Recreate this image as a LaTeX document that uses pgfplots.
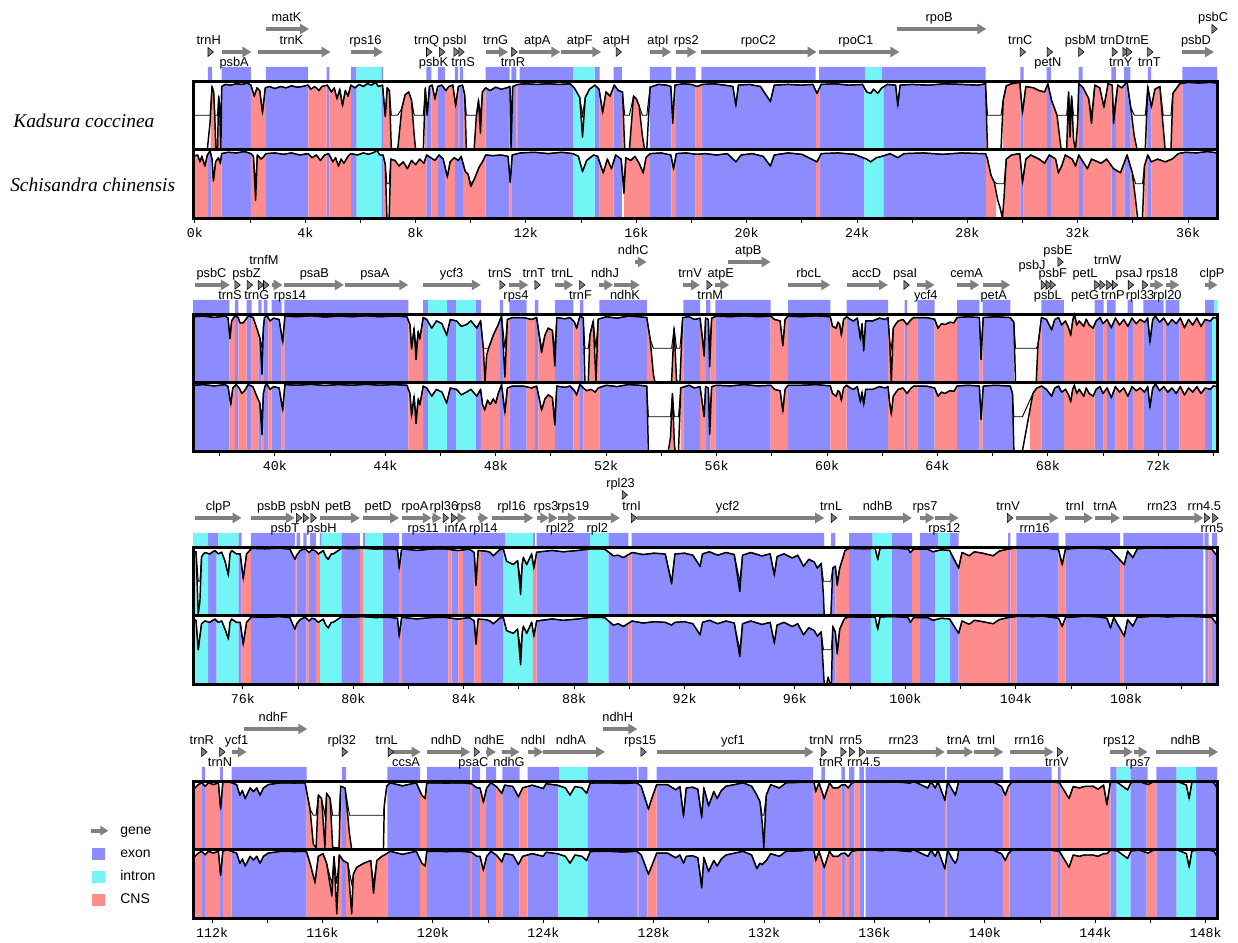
\documentclass[border=0pt]{standalone}
\usepackage{pgfplots}
\pgfplotsset{compat=1.18}
\usepackage{pgfplotstable}
\usetikzlibrary{arrows.meta}
\usepackage{fontspec}
\setmainfont{Liberation Sans}
\newfontfamily\serifit{Liberation Serif}
\newfontfamily\monof{Liberation Mono}
\definecolor{exon}{RGB}{140,140,255}
\definecolor{intron}{RGB}{115,245,245}
\definecolor{cns}{RGB}{255,140,140}
\definecolor{genegray}{RGB}{128,128,128}
\newcommand\genefont{\fontsize{9.6}{11}\selectfont}
\newcommand\tickfont{\monof\fontsize{10}{12}\selectfont}

% ================= ROW 1 =================
\pgfplotstableread[row sep=\\]{x id\\
-0.07 50\\0.45 50\\0.55 70\\0.62 96\\0.68 92\\0.72 74\\0.76 50\\0.82 52\\0.86 89\\0.9 80\\0.94 50\\0.97 96\\1.1 97.5\\1.3 97\\1.5 98\\1.7 97.5\\1.9 98.5\\2.03 97\\2.15 89\\2.25 95\\2.35 93\\2.45 77\\2.55 95\\2.7 96\\2.9 94.5\\3.1 96\\3.3 95\\3.5 96.5\\3.7 95.5\\3.9 96\\4.1 97\\4.2 94\\4.35 96\\4.5 93\\4.6 96\\4.8 97\\4.95 92\\5.05 95\\5.15 87\\5.25 94\\5.35 82\\5.45 93\\5.55 89\\5.65 97\\5.8 95\\5.95 97.5\\6.1 96\\6.25 98\\6.4 97\\6.55 99\\6.65 96\\6.8 97\\6.9 74\\6.97 95\\7.05 93\\7.12 50\\7.35 50\\7.5 80\\7.62 90\\7.75 92\\7.85 86\\7.95 60\\8.0 50\\8.28 50\\8.35 95\\8.42 75\\8.5 96\\8.6 97\\8.7 87\\8.8 96\\8.95 97\\9.1 93\\9.2 96\\9.35 97\\9.45 82\\9.55 96\\9.7 97\\9.78 90\\9.84 50\\10.12 50\\10.2 74\\10.28 86\\10.35 62\\10.42 92\\10.54 95\\10.7 93\\10.9 95.5\\11.1 94\\11.3 95\\11.42 96\\11.46 50\\11.52 96\\11.7 97.5\\12.0 98\\12.4 97.5\\12.8 98\\13.2 97.5\\13.6 98\\13.75 95\\13.95 88\\14.05 59\\14.15 88\\14.3 94\\14.5 97\\14.65 94\\14.78 77\\14.9 92\\15.05 89\\15.2 97\\15.35 93\\15.5 92\\15.58 50\\15.75 50\\15.9 89\\16.0 87\\16.1 82\\16.22 60\\16.3 50\\16.38 50\\16.5 95.5\\16.8 97.5\\17.1 97\\17.25 96\\17.32 69\\17.4 97\\17.7 98\\18.0 97.5\\18.2 96\\18.4 97.5\\18.8 98\\19.2 97\\19.5 96\\19.61 82\\19.7 97\\20.1 97.5\\20.5 96\\20.86 85\\21.0 97\\21.5 97.5\\22.0 97\\22.4 97.5\\22.55 91\\22.7 97.5\\23.2 98\\23.7 97\\24.2 97.5\\24.35 92\\24.5 91\\24.6 94\\24.75 91\\24.9 95\\25.1 97.5\\25.4 97\\25.48 82\\25.56 97\\26.0 97.5\\26.6 97\\27.2 98\\27.8 97.5\\28.4 97\\28.66 98\\28.73 50\\29.22 50\\29.3 86\\29.41 96.5\\29.6 98\\29.9 99\\30.0 77\\30.12 96\\30.4 95\\30.6 93\\30.8 92\\30.92 98\\31.05 86\\31.25 75\\31.4 50\\31.6 50\\31.67 92\\31.72 59\\31.78 89\\31.85 57\\31.92 50\\32.0 70\\32.04 98\\32.2 95\\32.4 87\\32.5 69\\32.62 97\\32.8 95\\32.95 81\\33.1 98\\33.25 97\\33.3 69\\33.45 97\\33.6 95\\33.79 99.5\\33.92 81\\34.05 60\\34.15 50\\34.45 50\\34.54 96\\34.67 81\\34.8 94\\34.98 96\\35.1 66\\35.17 50\\35.38 50\\35.45 91\\35.7 98\\36.0 99\\36.4 98.5\\36.8 99\\37.05 98.5\\
}\cAt
\pgfplotstableread[row sep=\\]{x id\\
-0.07 95\\0.1 96\\0.18 91\\0.25 95\\0.36 88\\0.45 96\\0.55 99\\0.62 93\\0.67 77\\0.75 91\\0.85 94\\0.92 90\\0.97 97\\1.2 98\\1.5 97.5\\1.8 98.5\\2.03 97\\2.12 95\\2.2 63\\2.26 96\\2.4 93\\2.5 95\\2.57 97\\2.9 97.5\\3.2 96.5\\3.5 97.5\\3.8 96\\4.1 97\\4.25 94\\4.4 96\\4.55 92\\4.7 96\\4.85 97\\5.0 91\\5.1 94\\5.2 88\\5.3 93\\5.4 90\\5.55 95\\5.65 97\\5.9 96\\6.1 97.5\\6.3 96.5\\6.5 98\\6.6 99.5\\6.7 96\\6.82 96\\6.9 89\\6.96 50\\7.04 50\\7.1 93\\7.25 92\\7.4 88\\7.55 91\\7.7 86\\7.85 92\\8.0 89\\8.15 93\\8.3 90\\8.4 96\\8.55 94\\8.7 92\\8.85 96\\9.0 93\\9.15 80\\9.25 91\\9.4 94\\9.55 92\\9.65 95\\9.8 84\\9.9 82\\10.0 73\\10.12 78\\10.2 82\\10.3 87\\10.45 92\\10.54 96\\10.8 95.5\\11.1 96\\11.35 95\\11.43 76\\11.5 96\\11.8 97.5\\12.3 98\\12.8 97\\13.3 98\\13.7 97\\13.9 95\\14.05 84\\14.2 92\\14.45 96\\14.6 95\\14.8 83\\14.95 93\\15.1 86\\15.25 96\\15.45 93\\15.55 68\\15.62 94\\15.8 92\\15.95 95\\16.1 90\\16.25 83\\16.35 94\\16.5 97\\16.9 97.5\\17.25 96\\17.35 86\\17.45 97\\17.8 97.5\\18.2 96.5\\18.5 97\\18.9 96\\19.3 97\\19.61 91\\19.8 96\\20.2 97\\20.6 95\\20.86 88\\21.0 96\\21.5 97.5\\22.0 96.5\\22.55 91\\22.7 97\\23.3 97.5\\23.9 96.5\\24.35 93\\24.5 91\\24.7 94\\24.9 95\\25.2 97\\25.48 94\\25.7 97\\26.4 97.5\\27.1 96.5\\27.8 97.5\\28.5 97\\28.66 97\\28.73 93\\28.86 81\\28.98 76\\29.1 63\\29.18 58\\29.27 50\\29.33 65\\29.41 93\\29.6 96\\29.9 97\\30.0 76\\30.12 93\\30.3 96\\30.6 93\\30.8 90\\30.97 96\\31.2 93\\31.3 83\\31.42 88\\31.55 96\\31.8 93\\31.92 88\\32.04 96\\32.35 86\\32.5 93\\32.85 90\\33.05 93\\33.3 86\\33.55 83\\33.79 96\\33.98 83\\34.1 63\\34.17 50\\34.35 50\\34.42 88\\34.54 96\\34.67 91\\34.9 93\\35.17 91\\35.42 93\\35.65 97\\35.9 98\\36.3 97.5\\36.7 98.5\\37.05 97.5\\
}\cAb
\pgfplotstableread[row sep=\\]{x c\\
-0.07 0\\0.57 3\\0.91 0\\0.97 1\\2.03 3\\2.57 1\\4.11 3\\4.77 1\\4.87 3\\5.65 1\\5.86 2\\6.76 1\\6.82 3\\7.19 0\\7.37 3\\8.03 0\\8.33 3\\8.39 1\\8.57 3\\8.82 1\\9.06 3\\9.42 1\\9.54 3\\9.6 1\\9.72 3\\9.84 0\\10.14 3\\10.54 1\\11.41 3\\11.47 1\\11.65 3\\11.71 1\\13.71 2\\14.49 1\\14.67 3\\15.18 1\\15.48 3\\15.58 0\\15.76 3\\16.34 0\\16.49 1\\17.27 3\\17.43 1\\18.15 3\\18.36 1\\22.51 3\\22.64 1\\24.27 2\\24.96 1\\28.67 3\\28.73 0\\29.29 3\\29.92 1\\30.04 3\\30.89 1\\31.04 3\\31.42 0\\31.62 3\\32.04 1\\32.19 3\\33.23 1\\33.39 3\\33.69 1\\33.92 3\\34.1 0\\34.5 3\\34.54 1\\34.67 3\\35.17 0\\35.4 3\\35.79 1\\37.05 0\\
}\rAt
\pgfplotstableread[row sep=\\]{x c\\
-0.07 3\\0.48 1\\0.6 3\\0.97 1\\2.03 3\\2.57 1\\4.11 3\\4.77 1\\4.87 3\\5.65 1\\5.86 2\\6.76 1\\6.82 3\\8.39 1\\8.57 3\\8.82 1\\9.06 3\\9.42 1\\9.72 3\\10.54 1\\11.41 3\\11.47 1\\13.71 2\\14.49 1\\14.67 3\\15.18 1\\15.48 0\\15.56 3\\16.49 1\\17.27 3\\17.43 1\\18.15 3\\18.36 1\\22.51 3\\22.64 1\\24.27 2\\24.96 1\\28.67 3\\29.04 0\\29.29 3\\29.92 1\\30.04 3\\30.89 1\\31.04 3\\32.04 1\\32.19 3\\33.23 1\\33.39 3\\33.69 1\\33.92 3\\34.1 0\\34.42 3\\34.54 1\\34.67 3\\35.79 1\\37.05 0\\
}\rAb
\pgfplotstableread[row sep=\\]{x c\\
-0.07 0\\0.47 1\\0.62 0\\0.97 1\\2.03 0\\2.57 1\\4.1 0\\4.77 1\\4.87 0\\5.65 1\\5.85 2\\6.76 1\\6.82 0\\8.39 1\\8.57 0\\8.81 1\\9.06 0\\9.42 1\\9.54 0\\9.6 1\\9.72 0\\10.54 1\\11.41 0\\11.47 1\\11.65 0\\11.77 1\\13.71 2\\14.49 1\\14.67 0\\15.18 1\\15.48 0\\16.49 1\\17.27 0\\17.43 1\\18.15 0\\18.36 1\\22.5 0\\22.63 1\\24.3 2\\24.9 1\\28.66 0\\29.92 1\\30.04 0\\30.87 1\\31.03 0\\32.03 1\\32.18 0\\33.22 1\\33.38 0\\33.68 1\\33.91 0\\34.54 1\\34.66 0\\35.79 1\\37.05 0\\
}\aA
\pgfplotstableread[row sep=\\]{x len lev\\
0.97 1.08 1\\2.57 1.57 2\\2.27 2.65 1\\5.65 1.17 1\\10.54 0.81 1\\11.75 1.5 1\\13.28 1.45 1\\16.49 0.78 1\\17.43 0.75 1\\18.36 4.18 1\\22.64 2.9 1\\25.44 3.25 2\\35.79 1.15 1\\
}\gA
\pgfplotstableread[row sep=\\]{x lev\\
0.54 1\\8.46 1\\8.93 1\\9.45 1\\9.63 1\\11.55 1\\15.33 1\\29.98 1\\30.96 1\\32.1 1\\33.31 1\\33.7 1\\33.84 1\\34.6 1\\36.93 2\\
}\tA
\pgfplotstableread[row sep=\\]{x lv lab\\
0.5 1 trnH\\1.42 2 psbA\\3.32 3 matK\\3.5 1 trnK\\6.18 1 rps16\\8.4 1 trnQ\\8.65 2 psbK\\9.42 1 psbI\\9.72 2 trnS\\10.9 1 trnG\\11.53 2 trnR\\12.41 1 atpA\\13.95 1 atpF\\15.28 1 atpH\\16.79 1 atpI\\17.81 1 rps2\\20.42 1 rpoC2\\23.96 1 rpoC1\\26.98 3 rpoB\\29.92 1 trnC\\30.92 2 petN\\32.1 1 psbM\\33.26 1 trnD\\33.56 2 trnY\\34.16 1 trnE\\34.6 2 trnT\\36.29 1 psbD\\36.91 3 psbC\\
}\lA

% ================= ROW 2 =================
\pgfplotstableread[row sep=\\]{x id\\
37.03 98\\37.4 98.5\\37.8 97.5\\38.2 98.5\\38.3 97\\38.37 82\\38.43 95\\38.55 98.7\\38.67 97.4\\38.73 93.6\\38.85 93.6\\38.95 96.2\\39.03 98.7\\39.21 97.4\\39.34 89.7\\39.46 82\\39.53 56\\39.58 90\\39.62 97.4\\39.72 98.7\\39.82 94.9\\39.95 97\\40.15 96\\40.28 79.5\\40.36 98.5\\40.8 98\\41.3 98.7\\41.8 97.8\\42.3 98.5\\42.8 98\\43.3 98.7\\43.8 98\\44.3 98.5\\44.78 98\\44.89 92.3\\44.95 74.4\\45.04 89.7\\45.11 66.7\\45.19 87.2\\45.25 82\\45.37 97.4\\45.5 96\\45.68 89.7\\45.85 95\\46.05 93\\46.22 84.6\\46.35 96\\46.58 94.9\\46.75 91\\46.94 92.3\\47.1 95\\47.31 89.7\\47.45 95\\47.55 74.4\\47.61 51\\47.67 70\\47.73 74.4\\47.91 84.6\\48.09 92.3\\48.21 98.7\\48.33 54\\48.42 96\\48.6 97.4\\49.0 97.4\\49.3 96\\49.48 97.4\\49.66 71.8\\49.78 84.6\\49.9 89.7\\50.05 88\\50.14 62\\50.21 97.4\\50.5 96.5\\50.69 97.4\\50.85 94\\50.93 89.7\\51.05 98.7\\51.17 97\\51.23 50\\51.35 50\\51.41 84.6\\51.53 94.9\\51.63 51.3\\51.71 96.2\\52.0 98\\52.4 97\\52.8 98.5\\53.2 98\\53.47 97.4\\53.59 82\\53.71 56\\53.77 50\\54.31 50\\54.37 51.3\\54.46 89.7\\54.55 51.3\\54.67 50\\54.77 97.4\\55.0 98\\55.2 96\\55.4 97\\55.55 69.2\\55.6 97\\55.7 96\\55.75 61.5\\55.82 97\\56.0 98.5\\56.5 98\\57.0 98.7\\57.5 98\\57.96 98.5\\58.1 96\\58.3 95\\58.4 76.9\\58.48 96\\58.59 98.5\\59.1 98\\59.6 98.7\\60.12 98\\60.2 91\\60.33 89.7\\60.4 94\\60.46 92.3\\60.52 84.6\\60.6 96\\60.71 98\\60.85 96\\60.96 94.9\\61.1 97\\61.21 82\\61.27 93\\61.33 73\\61.4 95\\61.65 94.9\\61.9 97\\62.1 96\\62.21 97.4\\62.27 80\\62.33 50\\62.4 89.7\\62.5 93\\62.58 94.9\\62.75 96\\62.9 92.3\\63.05 96\\63.15 97.4\\63.6 97.4\\63.9 96.2\\64.02 89.7\\64.15 93\\64.27 92.3\\64.45 94\\64.6 93.6\\64.71 97.4\\65.1 98\\65.52 97.4\\65.58 66.7\\65.66 97.4\\66.1 98\\66.64 97.4\\66.77 94\\66.83 50\\67.58 50\\67.64 76.9\\67.77 97.4\\67.95 96\\68.14 88.5\\68.25 96\\68.39 97.4\\68.5 92\\68.64 94.9\\68.75 90\\68.83 84.6\\68.9 95\\68.96 100\\69.05 92\\69.14 94.9\\69.3 91\\69.39 96.2\\69.5 92\\69.64 89.7\\69.75 95\\69.89 97.4\\70.0 93\\70.15 96\\70.3 90\\70.45 97\\70.6 92\\70.75 96\\70.9 91\\71.05 97\\71.2 93\\71.35 96\\71.5 94\\71.62 97\\71.7 79.5\\71.8 96\\71.9 98.5\\72.05 94\\72.2 97\\72.35 92\\72.5 96\\72.65 93\\72.8 97\\72.95 90\\73.1 96\\73.25 92\\73.4 97\\73.55 91\\73.7 96\\73.89 94.9\\74.0 97.5\\74.13 97\\
}\cBt
\pgfplotstableread[row sep=\\]{x id\\
37.03 98\\37.4 98.5\\37.8 97.5\\38.2 98.5\\38.3 97\\38.4 84\\38.47 96\\38.6 98.5\\38.7 96\\38.8 92\\38.9 94\\39.03 98.5\\39.2 97\\39.34 90\\39.45 85\\39.53 62\\39.58 92\\39.65 98\\39.72 98.5\\39.82 95\\39.95 97\\40.15 96\\40.28 80\\40.36 98.5\\40.8 98\\41.3 98.7\\41.8 97.8\\42.3 98.5\\42.8 98\\43.3 98.7\\43.8 98\\44.3 98.5\\44.78 98\\44.89 92\\44.95 76\\45.04 90\\45.11 70\\45.19 88\\45.25 84\\45.37 97.4\\45.5 96\\45.68 90\\45.85 95\\46.05 93\\46.22 85\\46.35 96\\46.58 95\\46.75 91\\46.94 93\\47.1 95\\47.31 90\\47.45 95\\47.52 84\\47.6 80\\47.7 87\\47.8 84\\47.91 88\\48.0 85\\48.09 92\\48.21 98.5\\48.33 78\\48.42 96\\48.6 97.4\\49.0 97.4\\49.3 96\\49.48 97.4\\49.66 80\\49.78 88\\49.9 91\\50.05 89\\50.14 69\\50.21 97.4\\50.5 96.5\\50.69 97.4\\50.85 94\\50.93 91\\51.05 98.7\\51.17 96\\51.3 94\\51.45 95\\51.6 93\\51.71 96\\52.0 98\\52.4 97\\52.8 98.5\\53.2 98\\53.47 97.4\\53.53 50\\54.25 50\\54.33 60\\54.4 92\\54.47 55\\54.5 50\\54.62 50\\54.7 96\\55.0 98\\55.2 96\\55.4 97\\55.55 75\\55.6 97\\55.7 96\\55.75 62\\55.82 97\\56.0 98\\56.5 97.5\\57.0 98.5\\57.5 97.5\\57.96 98\\58.1 95\\58.3 94\\58.4 79\\58.48 95\\58.59 98\\59.1 98\\59.6 98.5\\60.12 97.5\\60.2 92\\60.33 90\\60.4 94\\60.46 93\\60.52 87\\60.6 96\\60.71 98\\60.85 96\\60.96 95\\61.1 97\\61.21 86\\61.27 93\\61.33 84\\61.4 95\\61.65 95\\61.9 97\\62.1 96\\62.21 97\\62.27 85\\62.33 77\\62.4 90\\62.5 93\\62.58 95\\62.75 96\\62.9 92\\63.05 96\\63.15 97.4\\63.6 97.4\\63.9 96\\64.02 90\\64.15 93\\64.27 92\\64.45 94\\64.6 93.6\\64.71 97.4\\65.1 98\\65.52 97.4\\65.58 73\\65.66 97.4\\66.1 98\\66.64 97.4\\66.72 92\\66.77 50\\67.08 50\\67.46 92\\67.6 96\\67.77 97.4\\67.95 95\\68.14 90\\68.25 96\\68.39 97.4\\68.5 93\\68.64 95\\68.75 91\\68.83 86\\68.9 95\\68.96 98\\69.05 92\\69.14 95\\69.3 90\\69.39 96\\69.5 92\\69.64 90\\69.75 95\\69.89 97\\70.0 92\\70.15 96\\70.3 89\\70.45 97\\70.6 93\\70.75 96\\70.9 90\\71.05 97\\71.2 94\\71.35 96\\71.5 93\\71.62 97\\71.7 82\\71.8 96\\71.9 99\\72.05 94\\72.2 97\\72.35 93\\72.5 96\\72.65 92\\72.8 97\\72.95 91\\73.1 96\\73.25 93\\73.4 97\\73.55 92\\73.7 96\\73.89 95\\74.0 97.5\\74.13 97\\
}\cBb
\pgfplotstableread[row sep=\\]{x c\\
37.03 1\\38.35 3\\38.55 1\\38.67 3\\38.97 1\\39.15 3\\39.4 1\\39.52 3\\39.6 1\\39.76 3\\39.88 1\\40.24 3\\40.34 1\\44.83 3\\45.37 1\\45.55 2\\46.24 1\\46.56 2\\47.28 1\\47.46 3\\48.15 1\\48.27 3\\48.49 1\\49.12 3\\49.42 1\\49.54 3\\50.14 1\\50.81 3\\51.05 1\\51.17 3\\51.75 1\\53.47 3\\53.77 0\\54.3 3\\54.8 1\\55.4 3\\55.62 1\\55.77 3\\55.96 1\\57.96 3\\58.59 1\\60.12 3\\60.71 1\\62.21 3\\62.81 1\\62.9 3\\63.27 1\\63.9 3\\64.71 1\\65.52 3\\65.64 1\\66.77 0\\67.58 3\\67.77 1\\68.58 3\\69.7 1\\70.02 3\\70.14 1\\70.46 3\\70.89 1\\71.08 3\\71.46 1\\72.2 3\\72.27 1\\72.77 3\\73.7 1\\73.95 2\\74.13 0\\
}\rBt
\pgfplotstableread[row sep=\\]{x c\\
37.03 1\\38.35 3\\38.55 1\\38.67 3\\38.97 1\\39.15 3\\39.4 1\\39.52 3\\39.6 1\\39.76 3\\39.88 1\\40.24 3\\40.34 1\\44.83 3\\45.37 1\\45.55 2\\46.24 1\\46.56 2\\47.28 1\\47.46 3\\48.15 1\\48.27 3\\48.49 1\\49.12 3\\49.42 1\\49.54 3\\50.14 1\\50.81 3\\51.05 1\\51.17 3\\51.75 1\\53.47 3\\53.6 0\\54.3 3\\54.55 0\\54.7 3\\54.8 1\\55.4 3\\55.62 1\\55.77 3\\55.96 1\\57.96 3\\58.59 1\\60.12 3\\60.71 1\\62.21 3\\62.81 1\\62.9 3\\63.27 1\\63.9 3\\64.71 1\\65.52 3\\65.64 1\\66.77 0\\67.35 3\\67.77 1\\68.58 3\\69.7 1\\70.02 3\\70.14 1\\70.46 3\\70.89 1\\71.08 3\\71.46 1\\72.2 3\\72.27 1\\72.77 3\\73.7 1\\73.95 2\\74.13 0\\
}\rBb
\pgfplotstableread[row sep=\\]{x c\\
37.03 1\\38.35 0\\38.55 1\\38.67 0\\38.97 1\\39.15 0\\39.4 1\\39.52 0\\39.6 1\\39.72 0\\39.88 1\\40.24 0\\40.34 1\\44.83 0\\45.37 1\\45.55 2\\46.24 1\\46.56 2\\47.28 1\\47.46 0\\48.15 1\\48.27 0\\48.49 1\\49.12 0\\49.42 1\\49.54 0\\50.14 1\\50.81 0\\51.05 1\\51.17 0\\51.75 1\\53.47 0\\54.8 1\\55.4 0\\55.62 1\\55.77 0\\55.96 1\\57.96 0\\58.59 1\\60.12 0\\60.71 1\\62.21 0\\62.81 1\\62.9 0\\63.27 1\\63.9 0\\64.71 1\\65.52 0\\65.64 1\\66.64 0\\67.77 1\\68.58 0\\69.7 1\\70.02 0\\70.14 1\\70.46 0\\70.89 1\\71.08 0\\71.46 1\\72.2 0\\72.27 1\\72.77 0\\73.7 1\\74.02 2\\74.13 0\\
}\aB
\pgfplotstableread[row sep=\\]{x len lev\\
37.1 1.27 1\\39.88 0.4 1\\40.34 2.16 1\\42.54 2.29 1\\45.37 2.09 1\\48.49 0.69 1\\50.14 0.67 1\\51.75 0.51 1\\52.28 0.94 1\\53.04 0.43 2\\54.8 0.6 1\\55.96 0.5 1\\56.4 1.56 2\\58.59 1.53 1\\60.71 1.5 1\\63.27 0.63 1\\64.71 0.81 1\\65.64 1.0 1\\71.7 0.5 1\\72.27 0.5 1\\73.7 0.45 1\\
}\gB
\pgfplotstableread[row sep=\\]{x lev\\
38.61 1\\39.06 1\\39.46 1\\39.65 1\\48.21 1\\49.48 1\\51.1 1\\55.71 1\\62.85 1\\67.82 1\\68.0 1\\68.15 1\\68.43 2\\69.76 1\\69.95 1\\70.2 1\\70.4 1\\70.98 1\\71.5 1\\
}\tB
\pgfplotstableread[row sep=\\]{x lv lab\\
37.7 1 psbC\\38.37 2 trnS\\38.97 1 psbZ\\39.34 2 trnG\\39.6 4 trnfM\\40.54 2 rps14\\41.43 1 psaB\\43.62 1 psaA\\46.4 1 ycf3\\48.15 1 trnS\\48.73 2 rps4\\49.38 1 trnT\\50.41 1 trnL\\51.07 2 trnF\\51.96 1 ndhJ\\52.68 2 ndhK\\52.98 3 ndhC\\55.04 1 trnV\\55.77 2 trnM\\56.15 1 atpE\\57.15 3 atpB\\59.34 1 rbcL\\61.43 1 accD\\62.83 1 psaI\\63.58 2 ycf4\\65.06 1 cemA\\66.04 2 petA\\67.43 5 psbJ\\68.18 1 psbF\\68.0 2 psbL\\68.37 3 psbE\\69.35 1 petL\\69.35 2 petG\\70.17 4 trnW\\70.36 2 trnP\\70.94 1 psaJ\\71.34 2 rpl33\\72.14 1 rps18\\72.33 2 rpl20\\73.95 1 clpP\\
}\lB

% ================= ROW 3 =================
\pgfplotstableread[row sep=\\]{x id\\
74.19 97\\74.3 96.5\\74.38 51.3\\74.44 60\\74.5 93\\74.62 96\\74.8 94.9\\74.9 96.5\\74.99 97.4\\75.1 95\\75.23 96.2\\75.35 89.7\\75.47 79.5\\75.53 95\\75.59 97.4\\75.77 94.9\\75.9 95\\76.01 76.9\\76.13 94.9\\76.31 99\\76.8 98.7\\77.3 99.2\\77.7 98.5\\77.88 91\\77.95 94\\78.07 97.4\\78.25 98.7\\78.4 96\\78.5 98\\78.61 97.4\\78.73 94.9\\78.91 97.4\\79.0 93\\79.09 91\\79.2 95\\79.27 94.9\\79.57 99\\80.0 98.7\\80.3 99.2\\80.8 98.5\\81.3 98.7\\81.6 98\\81.66 84.6\\81.75 98.7\\82.3 97.5\\82.8 98.5\\83.3 98.7\\83.8 97.4\\84.2 98.5\\84.38 96\\84.44 71.8\\84.52 97.4\\84.8 97\\84.95 96.2\\85.07 93.6\\85.3 98\\85.43 98.7\\85.55 89.7\\85.79 87.2\\85.95 90\\86.06 65.4\\86.12 88\\86.16 92.3\\86.28 87.2\\86.46 94.9\\86.54 84.6\\86.64 96.2\\87.2 97.5\\87.6 96.5\\88.1 97.4\\88.6 98.7\\89.1 98.5\\89.42 93.6\\89.6 94\\89.78 92.3\\90.1 96\\90.5 94.5\\90.9 95.5\\91.3 94.9\\91.53 73.1\\91.65 94.9\\92.0 95.5\\92.3 94\\92.56 85.9\\92.65 95\\92.9 96.5\\93.2 94\\93.5 96\\93.8 94.5\\94.0 67.5\\94.1 94\\94.4 96\\94.8 93.5\\95.1 95\\95.25 79.5\\95.35 93\\95.6 95\\95.9 92\\96.1 94\\96.31 85.9\\96.5 91\\96.7 89\\96.81 84.6\\96.95 88\\97.03 65\\97.06 50\\97.3 50\\97.37 84.6\\97.46 86\\97.53 72\\97.62 84.6\\97.75 93\\97.81 97.4\\97.96 99\\98.5 98.7\\98.9 99\\99.0 91\\99.08 99\\99.6 99.2\\100.1 98.5\\100.18 96\\100.3 98.5\\100.8 98.5\\101.0 96.5\\101.3 98\\101.6 97.5\\101.93 84.6\\102.05 96\\102.31 93.6\\102.5 96.5\\102.8 95.5\\103.18 93.6\\103.4 97\\103.72 98.5\\104.1 99.5\\104.6 99.2\\105.0 99.5\\105.55 98\\105.68 87.2\\105.8 98.5\\106.5 99.5\\107.0 99\\107.4 98.5\\107.93 87.2\\108.05 97\\108.24 92.3\\108.4 98.7\\109.0 99.5\\109.5 99\\110.0 99.5\\110.6 99.2\\111.1 98.5\\111.29 93.6\\
}\cCt
\pgfplotstableread[row sep=\\]{x id\\
74.19 97\\74.3 96.5\\74.38 75\\74.44 85\\74.5 94\\74.62 96\\74.8 95\\74.9 96.5\\74.99 97.4\\75.1 95\\75.23 96\\75.35 90\\75.47 83\\75.53 95\\75.59 97.4\\75.77 95\\75.9 95\\76.01 79\\76.13 95\\76.31 99\\76.8 98.7\\77.3 99.2\\77.7 98.5\\77.88 90\\77.95 94\\78.07 97\\78.25 98.7\\78.4 96\\78.5 98\\78.61 97.4\\78.73 95\\78.91 97.4\\79.0 93\\79.09 91\\79.2 95\\79.27 95\\79.57 99\\80.0 98.7\\80.3 99.2\\80.8 98.5\\81.3 98.7\\81.6 98\\81.66 85\\81.75 98.7\\82.3 97.5\\82.8 98.5\\83.3 98.7\\83.8 97.4\\84.2 98.5\\84.38 96\\84.44 79\\84.52 97.4\\84.8 97\\84.95 96\\85.07 94\\85.3 98\\85.43 98.7\\85.55 89\\85.79 87\\85.95 90\\86.06 64\\86.12 88\\86.16 92\\86.28 87\\86.46 95\\86.54 85\\86.64 96\\87.2 97.5\\87.6 96.5\\88.1 97.4\\88.6 98.7\\89.1 98.5\\89.42 93\\89.6 94\\89.78 92\\90.1 96\\90.5 94.5\\90.9 95.5\\91.3 95\\91.53 93\\91.65 95\\92.0 95.5\\92.3 94\\92.56 86\\92.65 95\\92.9 96.5\\93.2 94\\93.5 96\\93.8 94.5\\94.0 70\\94.1 94\\94.4 96\\94.8 93.5\\95.1 95\\95.25 80\\95.35 93\\95.6 95\\95.9 92\\96.1 94\\96.31 86\\96.5 91\\96.7 89\\96.81 85\\96.95 88\\97.03 60\\97.06 50\\97.15 50\\97.2 55\\97.27 50\\97.32 50\\97.37 92\\97.46 88\\97.53 72\\97.62 90\\97.75 96\\97.81 98\\97.96 99\\98.5 98.7\\98.9 99\\99.0 90\\99.08 99\\99.6 99.2\\100.1 98.5\\100.18 95\\100.3 98.5\\100.8 98.5\\101.0 96.5\\101.3 98\\101.6 97.5\\101.93 87\\102.05 96\\102.31 93.6\\102.5 96.5\\102.8 95.5\\103.18 94\\103.4 97\\103.72 98.5\\104.1 99.5\\104.6 99.2\\105.0 99.5\\105.55 98\\105.68 92\\105.8 98.5\\106.5 99.5\\107.0 99\\107.3 98\\107.43 91\\107.55 98.5\\107.93 85\\108.05 97\\108.24 92.3\\108.4 98.7\\109.0 99.5\\109.5 99\\110.0 99.5\\110.6 99.2\\111.1 98.5\\111.29 93.6\\
}\cCb
\pgfplotstableread[row sep=\\]{x c\\
74.19 2\\74.74 1\\75.05 2\\75.83 1\\75.95 3\\76.29 1\\77.88 3\\77.94 1\\78.31 3\\78.4 1\\78.64 3\\78.79 2\\79.57 1\\80.24 3\\80.34 2\\81.06 1\\81.66 3\\81.76 1\\83.44 3\\83.56 1\\83.8 3\\83.98 1\\84.38 3\\84.62 1\\85.43 2\\86.5 3\\86.64 1\\88.51 2\\89.24 1\\89.96 3\\90.08 1\\97.06 0\\97.31 1\\97.46 3\\97.96 1\\98.75 2\\99.5 1\\100.24 3\\100.53 1\\101.08 2\\101.62 1\\101.93 3\\103.72 1\\103.8 3\\104.02 1\\105.55 3\\105.8 1\\107.78 3\\107.9 1\\110.8 0\\110.87 1\\110.99 3\\111.11 1\\111.29 0\\
}\rC
\pgfplotstableread[row sep=\\]{x c\\
74.19 2\\74.74 1\\75.11 2\\75.83 1\\75.95 0\\76.29 1\\77.88 0\\77.94 1\\78.07 0\\78.19 1\\78.31 0\\78.43 1\\78.64 0\\78.79 1\\78.85 2\\79.57 1\\80.24 0\\80.34 1\\80.43 2\\81.06 1\\81.66 0\\81.76 1\\85.5 2\\86.5 1\\86.58 0\\86.64 1\\88.58 2\\89.24 1\\89.96 0\\90.08 1\\97.06 0\\97.31 1\\97.46 0\\97.96 1\\98.81 2\\99.5 1\\100.24 0\\100.53 1\\101.18 2\\101.62 1\\101.93 0\\103.72 1\\103.8 0\\104.02 1\\105.55 0\\105.8 1\\107.78 0\\107.9 1\\110.8 0\\110.83 1\\110.99 0\\111.11 1\\111.29 0\\
}\aC
\pgfplotstableread[row sep=\\]{x len lev\\
74.26 1.69 1\\76.29 1.59 1\\78.79 1.45 1\\80.34 1.32 1\\81.76 1.08 1\\82.84 0.36 1\\83.74 0.36 1\\84.53 0.36 1\\85.01 1.51 1\\86.64 0.46 1\\87.1 0.3 1\\87.4 0.7 1\\88.15 1.51 1\\90.26 6.8 1\\97.96 2.28 1\\100.53 0.53 1\\101.09 0.84 1\\104.02 1.53 1\\105.8 1.0 1\\106.87 0.91 1\\107.9 2.9 1\\
}\gC
\pgfplotstableread[row sep=\\]{x lev\\
78.0 1\\78.25 1\\78.53 1\\83.32 1\\83.62 1\\89.8 2\\90.14 1\\97.38 1\\103.76 1\\110.9 1\\111.2 1\\
}\tC
\pgfplotstableread[row sep=\\]{x lv lab\\
75.11 1 clpP\\77.04 1 psbB\\77.52 2 psbT\\78.25 1 psbN\\78.85 2 psbH\\79.45 1 petB\\80.9 1 petD\\82.23 1 rpoA\\82.53 2 rps11\\83.28 1 rpl36\\83.71 2 infA\\84.18 1 rps8\\84.71 2 rpl14\\85.73 1 rpl16\\86.98 1 rps3\\87.49 2 rpl22\\87.97 1 rps19\\88.84 2 rpl2\\89.68 3 rpl23\\90.08 1 trnI\\93.56 1 ycf2\\97.31 1 trnL\\99.0 1 ndhB\\100.71 1 rps7\\101.41 2 rps12\\103.72 1 trnV\\104.68 2 rrn16\\106.15 1 trnI\\107.24 1 trnA\\109.3 1 rrn23\\110.83 1 rrn4.5\\111.11 2 rrn5\\
}\lC

% ================= ROW 4 =================
\pgfplotstableread[row sep=\\]{x id\\
111.31 95\\111.38 94.9\\111.5 97.4\\111.63 98.7\\111.75 96.2\\111.87 98.7\\112.05 97.4\\112.23 98.7\\112.31 79.5\\112.39 98.7\\112.53 100\\112.71 98.7\\112.89 97.4\\113.01 89.7\\113.1 93\\113.2 87.2\\113.38 94.9\\113.5 92.3\\113.62 94.9\\113.74 89.7\\113.86 94.9\\114.04 97.4\\114.5 98.7\\115.0 98.5\\115.37 98.7\\115.55 79.5\\115.67 53.8\\115.77 51.3\\115.85 89.7\\115.97 87.2\\116.09 51.3\\116.15 91\\116.28 87.2\\116.37 51.3\\116.6 51.3\\116.66 96.2\\116.82 94.9\\116.98 61.5\\117.06 50\\118.21 50\\118.24 82\\118.33 96.2\\118.45 98.7\\118.9 96.5\\119.4 98.7\\119.6 89.7\\119.72 87.2\\119.78 98.7\\120.5 98.5\\121.0 98.7\\121.4 98\\121.6 95\\121.71 94.9\\121.83 84.6\\121.95 94.9\\122.1 98.7\\122.3 96\\122.5 91\\122.6 97\\122.9 96\\123.1 88.5\\123.25 95\\123.6 97\\124.0 94.5\\124.1 98\\124.5 97\\124.8 95\\124.97 89.7\\125.15 96\\125.4 95\\125.57 91\\125.7 98.5\\126.3 98.7\\126.9 98.2\\127.39 98.7\\127.55 96\\127.81 79.5\\127.93 87.2\\128.11 97.4\\128.5 97.4\\128.8 93.6\\128.95 96\\129.08 74.4\\129.18 94.9\\129.4 95.5\\129.6 94\\129.74 73.1\\129.82 94.9\\129.99 82\\130.18 92.3\\130.3 87.2\\130.45 93\\130.62 96.2\\130.93 97.4\\131.24 98.7\\131.55 96.2\\131.74 89.7\\131.85 85\\131.93 70\\131.99 51.3\\132.08 89.7\\132.24 97.4\\132.55 94.9\\132.8 98.7\\133.3 99\\133.8 100\\133.87 92.3\\133.99 98.7\\134.18 87.2\\134.37 98.7\\134.5 95\\134.68 94.9\\134.8 97\\134.93 97.4\\135.05 95\\135.18 98.7\\135.4 99.5\\135.7 100\\136.3 99\\136.4 100\\137.3 98.5\\137.4 100\\137.93 94.9\\138.05 99.5\\138.2 94.9\\138.3 99.5\\138.55 86\\138.65 99.5\\138.93 89.7\\139.05 99.5\\139.7 100\\140.3 99.5\\140.6 96\\140.74 89.7\\140.85 96\\141.0 100\\141.6 99.5\\142.2 100\\142.7 98.7\\143.05 87.2\\143.2 96\\143.42 94.9\\143.6 96\\143.92 96.2\\144.1 94\\144.3 97\\144.42 83\\144.55 99.5\\144.8 99\\145.17 93.5\\145.3 99\\145.6 99.5\\145.92 97.4\\146.1 99.5\\146.6 100\\147.0 99.5\\147.3 97\\147.4 87.2\\147.5 99\\148.0 100\\148.3 98.7\\148.41 94.9\\
}\cDt
\pgfplotstableread[row sep=\\]{x id\\
111.31 95\\111.38 95\\111.5 97.4\\111.63 98.7\\111.75 96.2\\111.87 98.7\\112.05 97.4\\112.23 98.7\\112.31 81\\112.39 98.7\\112.53 100\\112.71 98.7\\112.89 97.4\\113.01 90\\113.1 93\\113.2 88\\113.38 95\\113.5 92.3\\113.62 95\\113.74 90\\113.86 95\\114.04 97.4\\114.5 98.7\\115.0 98.5\\115.37 98.7\\115.43 98\\115.55 90\\115.73 76\\115.85 95\\116.02 97\\116.15 90\\116.34 66\\116.42 95\\116.52 53\\116.61 96\\116.75 92\\116.92 90\\117.06 53\\117.12 82\\117.24 87\\117.5 90\\117.75 92\\117.85 68\\117.97 92\\118.15 95\\118.33 97\\118.45 98.7\\118.9 96.5\\119.4 98.7\\119.6 90\\119.72 88\\119.78 98.7\\120.5 98.5\\121.0 98.7\\121.4 98\\121.6 95\\121.71 95\\121.83 85\\121.95 95\\122.1 98.7\\122.3 96\\122.5 91\\122.6 97\\122.9 96\\123.1 89\\123.25 95\\123.6 97\\124.0 95\\124.1 98\\124.5 97\\124.8 95\\124.97 90\\125.15 96\\125.4 95\\125.57 92\\125.7 98.5\\126.3 98.7\\126.9 98.2\\127.39 98.7\\127.55 96\\127.81 82\\127.93 88\\128.11 97.4\\128.5 97.4\\128.8 94\\128.95 96\\129.08 90\\129.18 95\\129.4 95.5\\129.6 94\\129.74 72\\129.82 94\\129.99 84\\130.18 92\\130.3 88\\130.45 93\\130.62 96\\130.93 97.4\\131.24 98.7\\131.55 96\\131.74 86\\131.85 90\\131.93 89\\132.08 92\\132.24 97\\132.55 95\\132.8 98.7\\133.3 99\\133.8 100\\133.87 92\\133.99 98.7\\134.18 87\\134.37 98.7\\134.5 95\\134.68 95\\134.8 97\\134.93 97.4\\135.05 95\\135.18 98.7\\135.4 99.5\\135.7 100\\136.3 99\\136.4 100\\137.3 98.5\\137.4 100\\137.93 95\\138.05 99.5\\138.2 95\\138.3 99.5\\138.55 86\\138.65 99.5\\138.85 92\\138.93 90\\139.0 93\\139.05 99.5\\139.7 100\\140.3 99.5\\140.6 97\\140.74 92\\140.85 97\\141.0 100\\141.6 99.5\\142.2 100\\142.7 98.7\\143.05 87\\143.2 96\\143.42 95\\143.6 96\\143.92 96\\144.1 95\\144.3 97\\144.42 97\\144.55 99.5\\144.8 99\\145.17 93.5\\145.3 99\\145.6 99.5\\145.92 97.4\\146.1 99.5\\146.6 100\\147.0 99.5\\147.3 97\\147.4 87.2\\147.5 99\\148.0 100\\148.3 98.7\\148.41 94.9\\
}\cDb
\pgfplotstableread[row sep=\\]{x c\\
111.31 3\\111.63 1\\111.75 3\\112.29 1\\112.39 3\\112.71 1\\115.43 3\\116.7 1\\116.86 3\\117.06 0\\118.35 1\\119.54 3\\119.78 1\\121.35 3\\121.41 1\\121.71 3\\121.93 1\\122.29 3\\122.52 1\\123.14 3\\123.43 1\\124.55 2\\125.6 1\\127.39 3\\127.45 1\\127.77 3\\128.11 1\\133.78 3\\134.08 1\\134.2 3\\134.8 1\\134.93 3\\135.08 1\\135.27 3\\135.45 1\\135.62 0\\135.68 1\\138.55 3\\138.61 1\\140.65 3\\140.9 1\\142.42 3\\142.64 1\\142.74 3\\144.55 1\\144.77 2\\145.27 1\\145.86 3\\146.21 1\\146.95 2\\147.65 1\\148.41 0\\
}\rDt
\pgfplotstableread[row sep=\\]{x c\\
111.31 3\\111.63 1\\111.75 3\\112.29 1\\112.39 3\\112.71 1\\115.43 3\\116.7 1\\116.86 3\\118.35 1\\119.54 3\\119.78 1\\121.35 3\\121.41 1\\121.71 3\\121.93 1\\122.29 3\\122.52 1\\123.14 3\\123.43 1\\124.55 2\\125.6 1\\127.39 3\\127.45 1\\127.77 3\\128.11 1\\133.78 3\\134.08 1\\134.2 3\\134.8 1\\134.93 3\\135.08 1\\135.27 3\\135.45 1\\135.62 0\\135.68 1\\138.55 3\\138.61 1\\140.65 3\\140.9 1\\142.42 3\\142.64 1\\142.74 3\\144.55 1\\144.77 2\\145.27 1\\145.86 3\\146.21 1\\146.95 2\\147.65 1\\148.41 0\\
}\rDb
\pgfplotstableread[row sep=\\]{x c\\
111.31 0\\111.63 1\\111.75 0\\112.29 1\\112.39 0\\112.71 1\\115.43 0\\116.7 1\\116.86 0\\118.35 1\\119.54 0\\119.78 1\\121.35 0\\121.41 1\\121.71 0\\121.93 1\\122.29 0\\122.52 1\\123.14 0\\123.43 1\\124.58 2\\125.6 1\\127.39 0\\127.45 1\\127.77 0\\128.11 1\\133.78 0\\134.08 1\\134.2 0\\134.8 1\\134.93 0\\135.08 1\\135.27 0\\135.45 1\\135.62 0\\135.68 1\\138.55 0\\138.61 1\\140.65 0\\140.9 1\\142.42 0\\142.64 1\\142.74 0\\144.55 1\\144.77 2\\145.27 1\\145.9 0\\146.21 1\\146.95 2\\147.65 1\\148.41 0\\
}\aD
\pgfplotstableread[row sep=\\]{x len lev\\
112.71 0.55 1\\113.14 2.31 2\\118.51 1.05 1\\119.78 1.57 1\\121.93 0.36 1\\122.52 0.62 1\\123.43 0.57 1\\124.0 2.24 1\\126.15 1.26 2\\128.11 5.69 1\\135.68 2.87 1\\138.61 0.97 1\\139.61 1.06 1\\140.9 1.59 1\\144.55 0.81 1\\145.4 0.5 1\\146.21 2.24 1\\
}\gD
\pgfplotstableread[row sep=\\]{x lev\\
111.69 1\\112.34 1\\116.78 1\\118.45 1\\121.56 1\\127.6 1\\134.13 1\\134.85 1\\135.16 1\\135.52 1\\142.69 1\\
}\tD
\pgfplotstableread[row sep=\\]{x lv lab\\
111.63 1 trnR\\112.29 2 trnN\\112.89 1 ycf1\\114.22 3 ndhF\\116.7 1 rpl32\\118.33 1 trnL\\119.03 2 ccsA\\120.48 1 ndhD\\121.47 2 psaC\\122.05 1 ndhE\\122.76 2 ndhG\\123.64 1 ndhI\\125.0 1 ndhA\\126.7 3 ndhH\\127.51 1 rps15\\130.87 1 ycf1\\134.08 1 trnN\\134.43 2 trnR\\135.14 1 rrn5\\135.61 2 rrn4.5\\137.05 1 rrn23\\139.05 1 trnA\\140.05 1 trnI\\141.61 1 rrn16\\142.61 2 trnV\\144.86 1 rps12\\145.55 2 rps7\\147.27 1 ndhB\\
}\lD

\pgfplotsset{vrow/.style={scale only axis, width=768pt, height=102.75pt,
  ymin=0, ymax=100, clip=false, axis on top, anchor=south west,
  axis line style={line width=2.25pt, black}, ytick=\empty,
  xtick pos=bottom, tick align=outside, major tick length=4pt, minor tick length=4pt,
  tick style={black, line width=0.75pt},
  xticklabel style={font=\tickfont, text=black}}}

\newcommand{\RowPlots}[8]{%
 \addplot[const plot mark left, fill=exon, draw=none] table[x=x, y expr={\thisrow{c}==1?110.4:100}] {#5} -- (rel axis cs:1,1) -- (rel axis cs:0,1) -- cycle;
 \addplot[const plot mark left, fill=intron, draw=none] table[x=x, y expr={\thisrow{c}==2?110.4:100}] {#5} -- (rel axis cs:1,1) -- (rel axis cs:0,1) -- cycle;
 \addplot[const plot mark left, fill=exon, draw=none] table[x=x, y expr={\thisrow{c}==1?100:50}] {#1} -- (rel axis cs:1,0.5) -- (rel axis cs:0,0.5) -- cycle;
 \addplot[const plot mark left, fill=intron, draw=none] table[x=x, y expr={\thisrow{c}==2?100:50}] {#1} -- (rel axis cs:1,0.5) -- (rel axis cs:0,0.5) -- cycle;
 \addplot[const plot mark left, fill=cns, draw=none] table[x=x, y expr={\thisrow{c}==3?100:50}] {#1} -- (rel axis cs:1,0.5) -- (rel axis cs:0,0.5) -- cycle;
 \addplot[const plot mark left, fill=exon, draw=none] table[x=x, y expr={\thisrow{c}==1?50:0}] {#2} -- (rel axis cs:1,0) -- (rel axis cs:0,0) -- cycle;
 \addplot[const plot mark left, fill=intron, draw=none] table[x=x, y expr={\thisrow{c}==2?50:0}] {#2} -- (rel axis cs:1,0) -- (rel axis cs:0,0) -- cycle;
 \addplot[const plot mark left, fill=cns, draw=none] table[x=x, y expr={\thisrow{c}==3?50:0}] {#2} -- (rel axis cs:1,0) -- (rel axis cs:0,0) -- cycle;
 \addplot[fill=white, draw=none] table[x=x, y=id] {#3} -- (rel axis cs:1,1) -- (rel axis cs:0,1) -- cycle;
 \addplot[fill=white, draw=none] table[x=x, y expr=\thisrow{id}-50] {#4} -- (rel axis cs:1,0.5) -- (rel axis cs:0,0.5) -- cycle;
 \addplot[black, line width=0.7pt] table[x=x, y expr={max(\thisrow{id},75)}] {#3};
 \addplot[black, line width=0.7pt] table[x=x, y expr={max(\thisrow{id},75)-50}] {#4};
 \addplot[black, line width=1.1pt, line join=round] table[x=x, y=id] {#3};
 \addplot[black, line width=1.1pt, line join=round] table[x=x, y expr=\thisrow{id}-50] {#4};
 \draw[black, line width=2.25pt] (rel axis cs:0,0.5) -- (rel axis cs:1,0.5);
 \addplot[genegray, line width=3pt, mark=none, -{Triangle[length=6.75pt,width=7.5pt]}, quiver={u=\thisrow{len}, v=0}] table[x=x, y expr={\thisrow{lev}==2?138:121.2}] {#6};
 \addplot[only marks, mark=triangle*, mark size=3.9pt, mark options={rotate=-90, yscale=0.7, fill=genegray, draw=none}] table[x=x, y expr={\thisrow{lev}==2?138:121.2}] {#7};
 \addplot[draw=none, mark=none, nodes near coords, point meta=explicit symbolic, every node near coord/.append style={anchor=base, inner sep=0pt, font=\genefont, text=black}] table[x=x, meta=lab, y expr={\thisrow{lv}==1?126.6:(\thisrow{lv}==2?110.4:(\thisrow{lv}==3?143.4:(\thisrow{lv}==4?136.1:132.5)))}] {#8};
}

\begin{document}
\begin{tikzpicture}
\path (0pt,0pt) rectangle (928.5pt,-705pt);
\node[anchor=base west, inner sep=0pt] at (9.75pt,-95.5pt) {\serifit\itshape\fontsize{14.6}{16}\selectfont Kadsura coccinea};
\node[anchor=base west, inner sep=0pt] at (7.5pt,-143.5pt) {\serifit\itshape\fontsize{14.6}{16}\selectfont Schisandra chinensis};

\begin{axis}[vrow, at={(144.75pt,-163.5pt)}, xmin=-0.07, xmax=37.05,
  xtick={0,4,...,36}, xticklabels={0k,4k,8k,12k,16k,20k,24k,28k,32k,36k}, minor xtick={2,6,...,34}]
\RowPlots{\rAt}{\rAb}{\cAt}{\cAb}{\aA}{\gA}{\tA}{\lA}
\end{axis}

\begin{axis}[vrow, at={(144.75pt,-338.25pt)}, xmin=37.03, xmax=74.13,
  xtick={40,44,...,72}, xticklabels={40k,44k,48k,52k,56k,60k,64k,68k,72k}, minor xtick={38,42,...,74}]
\RowPlots{\rBt}{\rBb}{\cBt}{\cBb}{\aB}{\gB}{\tB}{\lB}
\end{axis}

\begin{axis}[vrow, at={(144.75pt,-513pt)}, xmin=74.19, xmax=111.29,
  xtick={76,80,...,108}, xticklabels={76k,80k,84k,88k,92k,96k,100k,104k,108k}, minor xtick={78,82,...,110}]
\RowPlots{\rC}{\rC}{\cCt}{\cCb}{\aC}{\gC}{\tC}{\lC}
\end{axis}

\begin{axis}[vrow, at={(144.75pt,-688.5pt)}, xmin=111.31, xmax=148.41,
  xtick={112,116,...,148}, xticklabels={112k,116k,120k,124k,128k,132k,136k,140k,144k,148k}, minor xtick={114,118,...,146}]
\RowPlots{\rDt}{\rDb}{\cDt}{\cDb}{\aD}{\gD}{\tD}{\lD}
\end{axis}

\begin{axis}[at={(67pt,-618pt)}, anchor=north west, hide axis, scale only axis, width=1pt, height=1pt,
  xmin=0, xmax=1, ymin=0, ymax=1,
  legend style={at={(0,1)}, anchor=north west, draw=none, fill=none, inner sep=0pt, outer sep=0pt,
    font=\fontsize{10.5}{12}\selectfont, row sep=7.25pt,
    nodes={inner sep=0pt, text height=8pt, text depth=2pt},
    /tikz/every odd column/.append style={column sep=7.5pt}},
  legend cell align=left]
\addplot[draw=none, forget plot] coordinates {(0,0)};
\addlegendimage{legend image code/.code={\draw[genegray, line width=3pt, -{Triangle[length=6pt,width=7pt]}] (0pt,0pt) -- (12.75pt,0pt);}}
\addlegendentry{gene}
\addlegendimage{legend image code/.code={\fill[exon] (0.5pt,-4.1pt) rectangle (9.5pt,4.1pt);}}
\addlegendentry{exon}
\addlegendimage{legend image code/.code={\fill[intron] (0.5pt,-4.1pt) rectangle (9.5pt,4.1pt);}}
\addlegendentry{intron}
\addlegendimage{legend image code/.code={\fill[cns] (0.5pt,-4.1pt) rectangle (9.5pt,4.1pt);}}
\addlegendentry{CNS}
\end{axis}
\end{tikzpicture}
\end{document}
